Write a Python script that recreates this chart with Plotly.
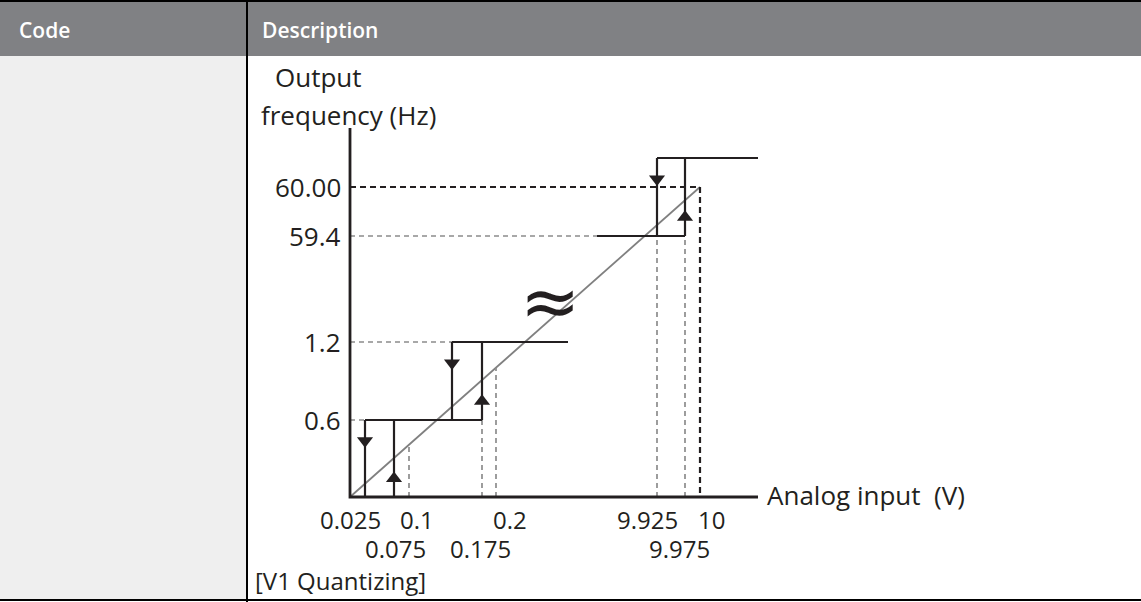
import numpy as np
import plotly.graph_objects as go

W, H = 1141, 602
FONT = "Open Sans"
INK = "#231f20"
GUIDE = "#8c8c8c"

# hysteresis steps: output goes down at DOWN_V, up at UP_V
DOWN_V = [0.025, 0.125, 9.925]
UP_V = [0.075, 0.175, 9.975]
LEVEL_LO = [0.0, 0.6, 59.4]
LEVEL_HI = [0.6, 1.2, 60.6]
RUN_START_V = 9.875          # 59.4 Hz run starts after the break
RUN_END_V = [0.3, 10.1]      # end of the 1.2 Hz run / end of the top run
MAX_V, MAX_HZ = 10.0, 60.0
GUIDE_V = [0.1, 0.2]         # dashed drops from the ideal line

X_ROW1 = [0.025, 0.1, 0.2, 9.925, 10]
X_ROW1_TXT = ["0.025", "0.1", "0.2", "9.925", "10"]
X_ROW2 = [0.075, 0.175, 9.975]
X_ROW2_TXT = ["0.075", "0.175", "9.975"]
Y_TICKS = [0.6, 1.2, 59.4, 60.0]
Y_TICKS_TXT = ["0.6", "1.2", "59.4", "60.00"]
AXIS_END_V, AXIS_END_HZ = 10.1, 61.2

# schematic (broken) scales: value -> drawing units
X_KNOT_V = [0, 0.025, 0.075, 0.1, 0.125, 0.175, 0.2, 0.3, 9.875, 9.925, 9.975, 10, 10.1]
X_KNOT_U = [0, 15, 44, 59, 102, 132, 146, 218, 247, 307, 335, 350, 408]
Y_KNOT_HZ = [0, 0.6, 1.2, 59.4, 60, 60.6, 61.2]
Y_KNOT_U = [0, 77, 155, 261, 310, 339, 369]


def xm(v):
    return float(np.interp(v, X_KNOT_V, X_KNOT_U))


def ym(v):
    return float(np.interp(v, Y_KNOT_HZ, Y_KNOT_U))


def seg(fig, x, y, color=INK, width=2.2, dash="solid"):
    fig.add_trace(go.Scatter(x=x, y=y, mode="lines", hoverinfo="skip",
                             line=dict(color=color, width=width, dash=dash)))


def py(p):  # pixel row -> paper y
    return 1 - p / H


fig = go.Figure()

# ideal line
seg(fig, [xm(0), xm(MAX_V)], [ym(0), ym(MAX_HZ)], color="#808080", width=1.8)

# guides
slope = ym(MAX_HZ) / xm(MAX_V)
gd = dict(color=GUIDE, dash="5px,4px", width=1.7)
for v in GUIDE_V:
    seg(fig, [xm(v), xm(v)], [0, xm(v) * slope], **gd)
for v in [UP_V[1], DOWN_V[2], UP_V[2]]:
    seg(fig, [xm(v), xm(v)], [0, ym(0.6) if v < 1 else ym(LEVEL_LO[2])], **gd)
for lvl, x_end in zip([0.6, 1.2, 59.4], [DOWN_V[0], DOWN_V[1], RUN_START_V]):
    seg(fig, [0, xm(x_end)], [ym(lvl), ym(lvl)], **gd)
seg(fig, [0, xm(MAX_V), xm(MAX_V)], [ym(MAX_HZ), ym(MAX_HZ), 0], dash="6px,4px", width=2.2)

# step function
for d, u, lo, hi in zip(DOWN_V, UP_V, LEVEL_LO, LEVEL_HI):
    seg(fig, [xm(d), xm(d)], [ym(lo), ym(hi)])
    seg(fig, [xm(u), xm(u)], [ym(lo), ym(hi)])
seg(fig, [xm(DOWN_V[0]), xm(UP_V[1])], [ym(0.6), ym(0.6)])
seg(fig, [xm(DOWN_V[1]), xm(RUN_END_V[0])], [ym(1.2), ym(1.2)])
seg(fig, [xm(RUN_START_V), xm(UP_V[2])], [ym(59.4), ym(59.4)])
seg(fig, [xm(DOWN_V[2]), xm(RUN_END_V[1])], [ym(LEVEL_HI[2]), ym(LEVEL_HI[2])])

# arrows
fig.add_trace(go.Scatter(
    x=[xm(d) for d in DOWN_V],
    y=[ym(lo) + 0.73 * (ym(hi) - ym(lo)) for lo, hi in zip(LEVEL_LO, LEVEL_HI)],
    mode="markers", hoverinfo="skip",
    marker=dict(symbol="triangle-down", size=14, color=INK, line=dict(width=0))))
fig.add_trace(go.Scatter(
    x=[xm(u) for u in UP_V],
    y=[ym(lo) + 0.24 * (ym(hi) - ym(lo)) for lo, hi in zip(LEVEL_LO, LEVEL_HI)],
    mode="markers", hoverinfo="skip",
    marker=dict(symbol="triangle-up", size=14, color=INK, line=dict(width=0))))

# axes
seg(fig, [0, 0, xm(AXIS_END_V)], [ym(AXIS_END_HZ), 0, 0], width=2.8)

ann = []
lab = dict(family=FONT, size=26, color=INK)
tick = dict(family=FONT, size=24, color=INK)
for v, t in zip(Y_TICKS, Y_TICKS_TXT):
    ann.append(dict(x=-7, y=ym(v), text=t, xanchor="right", yanchor="middle",
                    showarrow=False, font=lab))
ROW1_NUDGE = [-15, 8, 14, -10, 11]
ROW2_NUDGE = [1, -2, -6]
for v, t, s in zip(X_ROW1, X_ROW1_TXT, ROW1_NUDGE):
    ann.append(dict(x=xm(v), y=-22, text=t, xshift=s, xanchor="center", yanchor="middle",
                    showarrow=False, font=tick))
for v, t, s in zip(X_ROW2, X_ROW2_TXT, ROW2_NUDGE):
    ann.append(dict(x=xm(v), y=-51, text=t, xshift=s, xanchor="center", yanchor="middle",
                    showarrow=False, font=tick))
ann.append(dict(x=xm(AXIS_END_V) + 7, y=2, text="Analog input\u00a0 (V)", xanchor="left",
                yanchor="middle", showarrow=False, font=lab))
ann.append(dict(x=-77, y=420, text="Output", xanchor="left", yanchor="middle",
                showarrow=False, font=lab))
ann.append(dict(x=-91, y=382, text="frequency (Hz)", xanchor="left", yanchor="middle",
                showarrow=False, font=lab))
ann.append(dict(x=200, y=196, text="≈", xanchor="center", yanchor="middle",
                showarrow=False, font=dict(family="DejaVu Sans", size=72, color=INK)))
ann.append(dict(x=253 / W, y=py(580), xref="paper", yref="paper", text="[V1 Quantizing]",
                xanchor="left", yanchor="middle", showarrow=False, font=tick))

hdr = dict(family=FONT, size=21, color="white", weight=600)
ann.append(dict(x=17 / W, y=py(30), xref="paper", yref="paper", text="Code",
                xanchor="left", yanchor="middle", showarrow=False, font=hdr))
ann.append(dict(x=260 / W, y=py(30), xref="paper", yref="paper", text="Description",
                xanchor="left", yanchor="middle", showarrow=False, font=hdr))

shapes = [
    dict(type="rect", xref="paper", yref="paper", x0=0, x1=247 / W, y0=py(600), y1=py(56),
         fillcolor="#efefef", line_width=0, layer="below"),
    dict(type="rect", xref="paper", yref="paper", x0=0, x1=1, y0=py(56), y1=py(1),
         fillcolor="#808184", line_width=0, layer="below"),
    dict(type="line", xref="paper", yref="paper", x0=0, x1=1, y0=py(1), y1=py(1),
         line=dict(color="black", width=2)),
    dict(type="line", xref="paper", yref="paper", x0=0, x1=1, y0=py(600), y1=py(600),
         line=dict(color="black", width=2)),
    dict(type="line", xref="paper", yref="paper", x0=247 / W, x1=247 / W, y0=0, y1=1,
         line=dict(color="black", width=2)),
]

fig.update_layout(
    width=W, height=H,
    margin=dict(l=0, r=0, t=0, b=0),
    paper_bgcolor="white", plot_bgcolor="rgba(0,0,0,0)",
    showlegend=False,
    xaxis=dict(range=[-350, W - 350], visible=False, fixedrange=True),
    yaxis=dict(range=[497 - H, 497], visible=False, fixedrange=True),
    annotations=ann, shapes=shapes,
)

fig.write_html("out.html", config={"displayModeBar": False},
               post_script="document.body.style.margin='0';")
